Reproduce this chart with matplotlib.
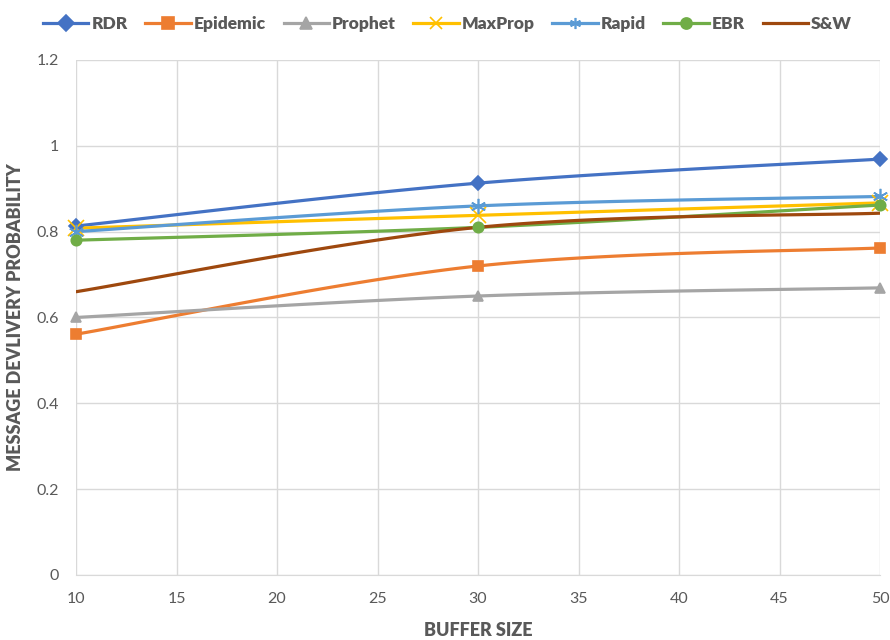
import numpy as np
import matplotlib
matplotlib.use('Agg')
import matplotlib.pyplot as plt

plt.rcParams['font.family'] = ['Lato', 'DejaVu Sans']

# data
buffer_size = [10, 30, 50]
rdr = [0.813, 0.913, 0.969]
epidemic = [0.561, 0.720, 0.762]
prophet = [0.600, 0.650, 0.669]
maxprop = [0.808, 0.838, 0.867]
rapid = [0.800, 0.860, 0.882]
ebr = [0.780, 0.810, 0.862]
sw = [0.660, 0.810, 0.843]

series = [
    ('RDR', rdr, '#4472C4', 'D'),
    ('Epidemic', epidemic, '#ED7D31', 's'),
    ('Prophet', prophet, '#A5A5A5', '^'),
    ('MaxProp', maxprop, '#FFC000', 'x'),
    ('Rapid', rapid, '#5B9BD5', (6, 2, 0)),
    ('EBR', ebr, '#70AD47', 'o'),
    ('S&W', sw, '#9E480E', None),
]


# excel-like smoothed line through the points (bezier, 1/6 tension)
def smooth(x, y, n=40):
    p = np.column_stack([x, y]).astype(float)
    pts = [p[0]] + list(p) + [p[-1]]
    out = []
    for i in range(1, len(pts) - 2):
        p0, p1, p2, p3 = pts[i - 1], pts[i], pts[i + 1], pts[i + 2]
        c1 = p1 + (p2 - p0) / 6
        c2 = p2 - (p3 - p1) / 6
        t = np.linspace(0, 1, n)[:, None]
        seg = ((1 - t) ** 3) * p1 + 3 * ((1 - t) ** 2) * t * c1 + 3 * (1 - t) * t ** 2 * c2 + t ** 3 * p2
        out.append(seg)
    out = np.vstack(out)
    return out[:, 0], out[:, 1]


fig = plt.figure(figsize=(8.9, 6.4), dpi=100)
ax = fig.add_axes([0.0854, 0.1016, 0.9035, 0.8047])

handles = []
for name, vals, col, mk in series:
    sx, sy = smooth(buffer_size, vals)
    ax.plot(sx, sy, color=col, lw=2.3, solid_capstyle='round', zorder=3)
    if mk is not None:
        big = mk in ('x', (6, 2, 0))
        ax.plot(buffer_size, vals, ls='none', marker=mk, color=col, ms=11 if big else 7.5,
                mew=1.2, zorder=4, clip_on=False)
    h, = ax.plot([], [], color=col, lw=2.3, marker=mk, ms=8, mew=1.2, label=name)
    handles.append(h)

ax.set_xlim(10, 50)
ax.set_ylim(0, 1.2)
ax.set_xticks(np.arange(10, 51, 5))
ax.set_yticks([0, 0.2, 0.4, 0.6, 0.8, 1, 1.2])
ax.set_yticklabels(['0', '0.2', '0.4', '0.6', '0.8', '1', '1.2'])
ax.grid(True, color='#D9D9D9', lw=1)
ax.set_axisbelow(True)
for s in ['top', 'right', 'left']:
    ax.spines[s].set_visible(False)
ax.spines['bottom'].set_color('#D9D9D9')
ax.tick_params(length=0, labelsize=11.5, colors='#595959', pad=12)

ax.set_xlabel('BUFFER SIZE', fontsize=13, fontweight='heavy', color='#595959', labelpad=12)
ax.set_ylabel('MESSAGE DEVLIVERY PROBABILITY', fontsize=13, fontweight='heavy', color='#595959', labelpad=9)

fig.legend(handles=handles, loc='upper center', bbox_to_anchor=(0.503, 1.0), ncol=7, frameon=False,
           prop={'size': 12.5, 'weight': 'heavy'}, labelcolor='#595959', handlelength=2.6,
           columnspacing=1.0, handletextpad=0.2)

fig.savefig('out.png', dpi=100)
